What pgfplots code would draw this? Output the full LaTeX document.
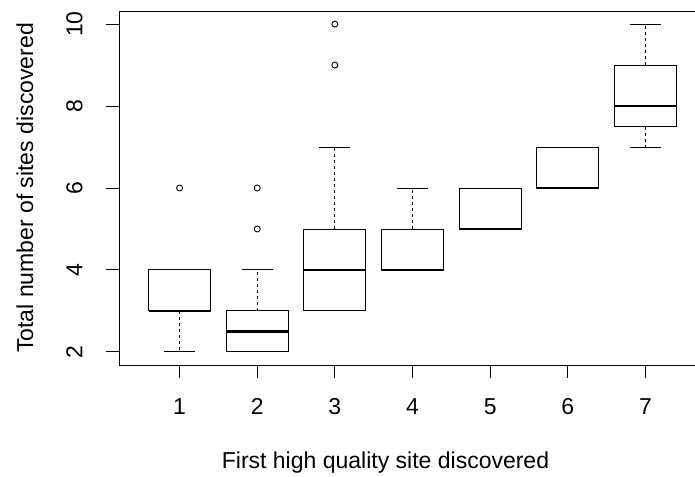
\documentclass[border=0pt]{standalone}
\usepackage{pgfplots}
\pgfplotsset{compat=1.18}
\usepgfplotslibrary{statistics}
\usepackage{fontspec}
\setmainfont{Liberation Sans}
\newcommand{\rf}{\fontsize{23}{27}\selectfont}
\pgfplotsset{
  rbox/.style={
    black, line width=0.9pt, solid,
    mark=o, mark size=3pt, mark options={solid, line width=0.9pt},
    boxplot/draw direction=y,
    boxplot/box extend=0.8,
    boxplot/whisker extend=0.4,
    boxplot/every median/.style={line width=2.2pt},
    boxplot/draw/lower whisker/.code={%
      \draw[black, line width=0.9pt, dash pattern=on 3pt off 3pt]
        (boxplot cs:\pgfplotsboxplotvalue{lower quartile}) --
        (boxplot cs:\pgfplotsboxplotvalue{lower whisker});
      \draw[black, line width=0.9pt]
        (boxplot whisker cs:\pgfplotsboxplotvalue{lower whisker},0) --
        (boxplot whisker cs:\pgfplotsboxplotvalue{lower whisker},1);
    },
    boxplot/draw/upper whisker/.code={%
      \draw[black, line width=0.9pt, dash pattern=on 3pt off 3pt]
        (boxplot cs:\pgfplotsboxplotvalue{upper quartile}) --
        (boxplot cs:\pgfplotsboxplotvalue{upper whisker});
      \draw[black, line width=0.9pt]
        (boxplot whisker cs:\pgfplotsboxplotvalue{upper whisker},0) --
        (boxplot whisker cs:\pgfplotsboxplotvalue{upper whisker},1);
    },
  },
}
\begin{document}
\begin{tikzpicture}
\begin{axis}[
  scale only axis,
  width=587pt, height=354pt,
  xmin=0.22, xmax=7.78, ymin=1.68, ymax=10.32,
  xtick={1,2,3,4,5,6,7},
  ytick={2,4,6,8,10},
  tick pos=left,
  tick align=outside,
  major tick length=13pt,
  every tick/.style={black, line width=0.9pt},
  axis line style={line width=0.9pt},
  /pgf/number format/assume math mode=true,
  tick label style={font=\rf},
  xticklabel style={anchor=base, yshift=-36pt},
  yticklabel style={rotate=90, anchor=base},
  yticklabel shift=23.5pt,
  xlabel={First high quality site discovered},
  ylabel={Total number of sites discovered},
  label style={font=\rf},
  xlabel style={at={(rel axis cs:0.454,-0.291)}, anchor=base},
  ylabel style={at={(rel axis cs:-0.1465,0.5)}, anchor=base},
]
\addplot[rbox, boxplot prepared={draw position=1, lower whisker=2, lower quartile=3, median=3, upper quartile=4, upper whisker=4}] coordinates {(0,6)};
\addplot[rbox, boxplot prepared={draw position=2, lower whisker=2, lower quartile=2, median=2.5, upper quartile=3, upper whisker=4}] coordinates {(0,5) (0,6)};
\addplot[rbox, boxplot prepared={draw position=3, lower whisker=3, lower quartile=3, median=4, upper quartile=5, upper whisker=7}] coordinates {(0,9) (0,10)};
\addplot[rbox, boxplot prepared={draw position=4, lower whisker=4, lower quartile=4, median=4, upper quartile=5, upper whisker=6}] coordinates {};
\addplot[rbox, boxplot prepared={draw position=5, lower whisker=5, lower quartile=5, median=5, upper quartile=6, upper whisker=6}] coordinates {};
\addplot[rbox, boxplot prepared={draw position=6, lower whisker=6, lower quartile=6, median=6, upper quartile=7, upper whisker=7}] coordinates {};
\addplot[rbox, boxplot prepared={draw position=7, lower whisker=7, lower quartile=7.5, median=8, upper quartile=9, upper whisker=10}] coordinates {};
\end{axis}
\pgfresetboundingbox
\useasboundingbox (current axis.south west) ++(-119pt,-111pt) rectangle ++(695pt,476pt);
\end{tikzpicture}
\end{document}
